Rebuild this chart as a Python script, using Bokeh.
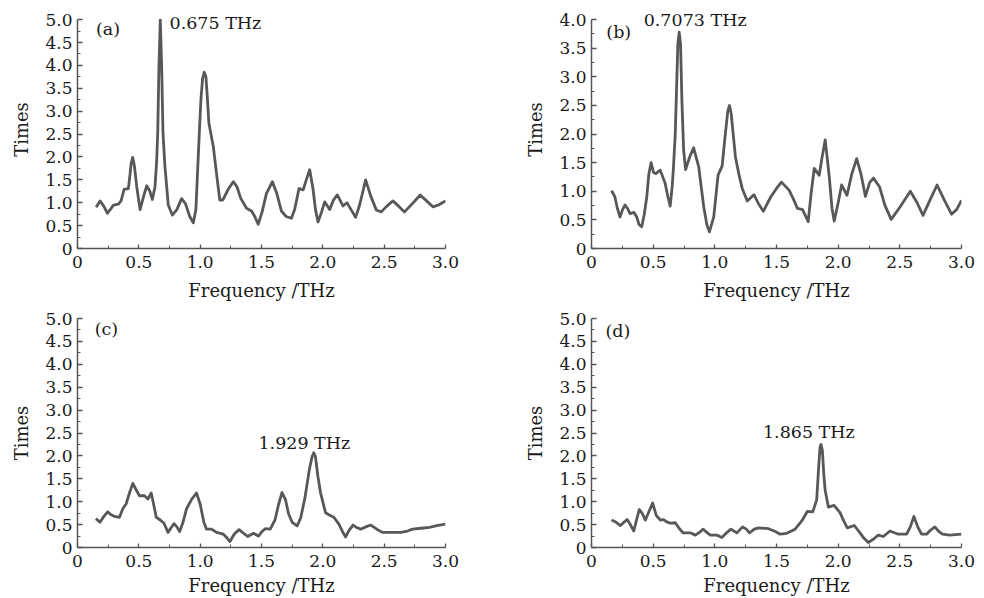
from bokeh.plotting import figure
from bokeh.layouts import column, row
from bokeh.models import Range1d, FixedTicker, ColumnDataSource, Label
from bokeh.embed import file_html
from bokeh.resources import INLINE

# ---------------- data ----------------
freq_a = [0.152, 0.184, 0.215, 0.244, 0.270, 0.293, 0.334, 0.355, 0.380, 0.415, 0.429, 0.437, 0.450, 0.464,
          0.483, 0.510, 0.535, 0.564, 0.590, 0.610, 0.632, 0.645, 0.654, 0.664, 0.675, 0.686, 0.697, 0.713,
          0.740, 0.773, 0.810, 0.849, 0.880, 0.915, 0.944, 0.965, 0.993, 1.006, 1.020, 1.033, 1.047, 1.058,
          1.071, 1.107, 1.135, 1.160, 1.185, 1.230, 1.270, 1.300, 1.330, 1.378, 1.419, 1.445, 1.473, 1.505,
          1.540, 1.589, 1.625, 1.662, 1.700, 1.744, 1.770, 1.806, 1.840, 1.865, 1.893, 1.920, 1.940, 1.961,
          1.990, 2.015, 2.056, 2.085, 2.118, 2.164, 2.197, 2.230, 2.267, 2.300, 2.349, 2.390, 2.436, 2.476,
          2.520, 2.571, 2.620, 2.666, 2.730, 2.794, 2.850, 2.897, 2.950, 3.000]
times_a = [0.90, 1.04, 0.92, 0.77, 0.86, 0.95, 0.97, 1.04, 1.29, 1.31, 1.64, 1.85, 1.99, 1.80,
           1.35, 0.85, 1.10, 1.37, 1.25, 1.07, 1.35, 1.90, 2.52, 3.99, 4.99, 3.99, 2.52, 1.79,
           0.95, 0.73, 0.85, 1.09, 0.98, 0.70, 0.56, 0.85, 2.52, 3.25, 3.72, 3.85, 3.75, 3.32,
           2.74, 2.23, 1.60, 1.06, 1.06, 1.30, 1.46, 1.35, 1.10, 0.88, 0.82, 0.70, 0.53, 0.80,
           1.20, 1.46, 1.20, 0.82, 0.70, 0.66, 0.85, 1.31, 1.28, 1.50, 1.72, 1.30, 0.85, 0.58,
           0.80, 1.02, 0.85, 1.05, 1.17, 0.93, 1.00, 0.85, 0.68, 0.95, 1.50, 1.15, 0.84, 0.80,
           0.92, 1.04, 0.92, 0.80, 0.98, 1.17, 1.03, 0.91, 0.96, 1.04]

freq_b = [0.163, 0.190, 0.210, 0.231, 0.252, 0.272, 0.292, 0.312, 0.345, 0.367, 0.385, 0.407, 0.428, 0.448,
          0.465, 0.483, 0.503, 0.521, 0.557, 0.597, 0.620, 0.638, 0.655, 0.665, 0.679, 0.687, 0.700, 0.711,
          0.722, 0.733, 0.747, 0.763, 0.796, 0.828, 0.869, 0.910, 0.935, 0.956, 0.991, 1.026, 1.059, 1.085,
          1.105, 1.119, 1.133, 1.167, 1.195, 1.222, 1.263, 1.317, 1.355, 1.393, 1.453, 1.500, 1.540, 1.602,
          1.640, 1.670, 1.711, 1.757, 1.780, 1.806, 1.846, 1.870, 1.895, 1.928, 1.950, 1.968, 2.000, 2.028,
          2.072, 2.110, 2.150, 2.185, 2.221, 2.255, 2.286, 2.335, 2.380, 2.430, 2.500, 2.585, 2.640, 2.688,
          2.745, 2.802, 2.860, 2.919, 2.960, 3.000]
times_b = [1.01, 0.90, 0.70, 0.55, 0.68, 0.76, 0.70, 0.61, 0.63, 0.55, 0.42, 0.38, 0.60, 0.90,
           1.30, 1.50, 1.33, 1.31, 1.37, 1.14, 0.90, 0.74, 1.10, 1.43, 2.00, 2.59, 3.57, 3.78,
           3.57, 2.59, 1.72, 1.38, 1.60, 1.76, 1.43, 0.73, 0.42, 0.29, 0.55, 1.28, 1.44, 2.00,
           2.40, 2.50, 2.35, 1.60, 1.30, 1.05, 0.83, 0.94, 0.78, 0.65, 0.90, 1.05, 1.16, 1.02,
           0.85, 0.70, 0.68, 0.47, 0.95, 1.40, 1.28, 1.60, 1.90, 1.25, 0.70, 0.48, 0.80, 1.11,
           0.93, 1.30, 1.57, 1.30, 0.91, 1.15, 1.23, 1.08, 0.75, 0.51, 0.72, 1.00, 0.80, 0.58,
           0.85, 1.11, 0.85, 0.60, 0.68, 0.84]

freq_c = [0.150, 0.183, 0.215, 0.246, 0.270, 0.300, 0.342, 0.370, 0.396, 0.425, 0.451, 0.480, 0.505, 0.546,
          0.574, 0.601, 0.620, 0.642, 0.675, 0.705, 0.738, 0.760, 0.787, 0.810, 0.833, 0.860, 0.888, 0.930,
          0.970, 1.000, 1.030, 1.052, 1.093, 1.134, 1.189, 1.215, 1.243, 1.280, 1.317, 1.350, 1.388, 1.434,
          1.475, 1.505, 1.530, 1.571, 1.610, 1.640, 1.667, 1.695, 1.721, 1.750, 1.790, 1.820, 1.855, 1.890,
          1.912, 1.926, 1.940, 1.960, 1.981, 2.022, 2.060, 2.090, 2.131, 2.160, 2.186, 2.215, 2.246, 2.280,
          2.309, 2.350, 2.391, 2.440, 2.486, 2.560, 2.637, 2.690, 2.732, 2.800, 2.869, 2.930, 3.000]
times_c = [0.63, 0.55, 0.68, 0.78, 0.72, 0.68, 0.66, 0.85, 0.95, 1.20, 1.40, 1.25, 1.13, 1.13,
           1.06, 1.19, 0.95, 0.66, 0.60, 0.53, 0.33, 0.42, 0.52, 0.45, 0.35, 0.55, 0.84, 1.05,
           1.19, 0.95, 0.55, 0.40, 0.40, 0.33, 0.29, 0.22, 0.13, 0.30, 0.39, 0.32, 0.24, 0.31,
           0.25, 0.35, 0.41, 0.40, 0.60, 0.95, 1.20, 1.05, 0.73, 0.55, 0.47, 0.65, 1.10, 1.70,
           1.98, 2.07, 1.98, 1.55, 1.20, 0.76, 0.70, 0.66, 0.51, 0.35, 0.23, 0.38, 0.49, 0.43,
           0.40, 0.45, 0.49, 0.40, 0.33, 0.33, 0.33, 0.36, 0.40, 0.42, 0.44, 0.48, 0.51]

freq_d = [0.162, 0.200, 0.235, 0.262, 0.289, 0.315, 0.343, 0.365, 0.388, 0.410, 0.437, 0.465, 0.496, 0.525,
          0.558, 0.585, 0.610, 0.639, 0.680, 0.710, 0.742, 0.801, 0.842, 0.875, 0.904, 0.935, 0.963, 1.017,
          1.057, 1.095, 1.130, 1.179, 1.225, 1.255, 1.281, 1.320, 1.354, 1.435, 1.490, 1.530, 1.583, 1.651,
          1.705, 1.751, 1.794, 1.826, 1.842, 1.853, 1.861, 1.872, 1.883, 1.894, 1.921, 1.967, 2.015, 2.045,
          2.074, 2.131, 2.177, 2.210, 2.244, 2.285, 2.325, 2.366, 2.420, 2.487, 2.555, 2.585, 2.614, 2.645,
          2.676, 2.716, 2.750, 2.784, 2.815, 2.846, 2.905, 3.000]
times_d = [0.60, 0.55, 0.48, 0.55, 0.61, 0.50, 0.36, 0.60, 0.83, 0.75, 0.60, 0.78, 0.97, 0.70,
           0.60, 0.61, 0.56, 0.53, 0.54, 0.42, 0.32, 0.32, 0.27, 0.33, 0.40, 0.33, 0.27, 0.27,
           0.22, 0.32, 0.40, 0.32, 0.45, 0.40, 0.32, 0.40, 0.43, 0.41, 0.35, 0.29, 0.31, 0.40,
           0.58, 0.79, 0.78, 1.04, 1.76, 2.19, 2.25, 2.12, 1.62, 1.26, 0.88, 0.92, 0.76, 0.58,
           0.43, 0.48, 0.32, 0.20, 0.11, 0.18, 0.27, 0.24, 0.36, 0.29, 0.29, 0.45, 0.68, 0.45,
           0.29, 0.29, 0.38, 0.45, 0.35, 0.29, 0.27, 0.29]

x_ticks = [0, 0.5, 1.0, 1.5, 2.0, 2.5, 3.0]
x_tick_labels = ["0", "0.5", "1.0", "1.5", "2.0", "2.5", "3.0"]
y_ticks_5 = [0, 0.5, 1.0, 1.5, 2.0, 2.5, 3.0, 3.5, 4.0, 4.5, 5.0]
y_tick_labels_5 = ["0", "0.5", "1.0", "1.5", "2.0", "2.5", "3.0", "3.5", "4.0", "4.5", "5.0"]
y_ticks_4 = [0, 0.5, 1.0, 1.5, 2.0, 2.5, 3.0, 3.5, 4.0]
y_tick_labels_4 = ["0", "0.5", "1.0", "1.5", "2.0", "2.5", "3.0", "3.5", "4.0"]

panel_letters = ["(a)", "(b)", "(c)", "(d)"]
peak_labels = ["0.675 THz", "0.7073 THz", "1.929 THz", "1.865 THz"]

FONT = "DejaVu Serif"
TXT = "#1a1a1a"
AX = "#555555"
LINE = "#585858"


def make_panel(xs, ys, ymax, yview, yticks, ylabels, width, height, bl, br, bt, bb, xstand,
               letter, letter_pos, peak, peak_pos):
    p = figure(width=width, height=height, output_backend="svg", toolbar_location=None,
               x_range=Range1d(0, 3.0), y_range=Range1d(0, yview),
               min_border_left=bl, min_border_right=br, min_border_top=bt, min_border_bottom=bb,
               background_fill_color="white", border_fill_color="white")
    p.outline_line_color = None
    p.grid.visible = False
    src = ColumnDataSource(dict(x=xs, y=ys))
    p.line("x", "y", source=src, line_color=LINE, line_width=2.8, line_join="round")

    xa = p.xaxis[0]
    xa.ticker = FixedTicker(ticks=x_ticks, minor_ticks=[0.25, 0.75, 1.25, 1.75, 2.25, 2.75])
    xa.major_label_overrides = {t: l for t, l in zip(x_ticks, x_tick_labels)}
    xa.axis_label = "Frequency /THz"
    ya = p.yaxis[0]
    minor_y = [v + 0.25 for v in yticks[:-1]]
    ya.ticker = FixedTicker(ticks=yticks, minor_ticks=minor_y)
    ya.major_label_overrides = {t: l for t, l in zip(yticks, ylabels)}
    ya.axis_label = "Times"
    ya.bounds = (0, ymax)
    for ax in (xa, ya):
        ax.axis_line_color = AX
        ax.axis_line_width = 1.5
        ax.major_tick_line_color = AX
        ax.minor_tick_line_color = AX
        ax.major_tick_line_width = 1.3
        ax.minor_tick_line_width = 1.0
        ax.major_tick_out = 0
        ax.minor_tick_out = 0
        ax.major_label_text_font = FONT
        ax.major_label_text_font_size = "17px"
        ax.major_label_text_color = TXT
        ax.axis_label_text_font = FONT
        ax.axis_label_text_font_size = "18px"
        ax.axis_label_text_font_style = "normal"
        ax.axis_label_text_color = TXT
    xa.major_tick_in = 4
    xa.minor_tick_in = 3
    ya.major_tick_in = 5
    ya.minor_tick_in = 3
    xa.major_label_standoff = 7
    xa.axis_label_standoff = xstand
    ya.major_label_standoff = 5
    ya.axis_label_standoff = 10

    p.add_layout(Label(x=letter_pos[0], y=letter_pos[1], text=letter, text_font=FONT,
                       text_font_size="17.5px", text_color=TXT, text_baseline="alphabetic"))
    p.add_layout(Label(x=peak_pos[0], y=peak_pos[1], text=peak, text_font=FONT,
                       text_font_size="17.5px", text_color=TXT, text_baseline="alphabetic"))
    return p


pa = make_panel(freq_a, times_a, 5.0, 5.2, y_ticks_5, y_tick_labels_5, 505, 304, 77, 60, 10, 56, 9,
                panel_letters[0], (0.150, 4.80), peak_labels[0], (0.750, 4.93))
pb = make_panel(freq_b, times_b, 4.0, 4.16, y_ticks_4, y_tick_labels_4, 477, 304, 86, 21, 10, 56, 9,
                panel_letters[1], (0.120, 3.79), peak_labels[1], (0.423, 3.99))
pc = make_panel(freq_c, times_c, 5.0, 5.0, y_ticks_5, y_tick_labels_5, 505, 294, 77, 60, 14, 50, 5,
                panel_letters[2], (0.140, 4.78), peak_labels[2], (1.475, 2.29))
pd = make_panel(freq_d, times_d, 5.0, 5.0, y_ticks_5, y_tick_labels_5, 477, 294, 86, 21, 14, 50, 5,
                panel_letters[3], (0.113, 4.73), peak_labels[3], (1.39, 2.52))

layout = column(row(pa, pb), row(pc, pd))
open("out.html", "w").write(file_html(layout, INLINE))
